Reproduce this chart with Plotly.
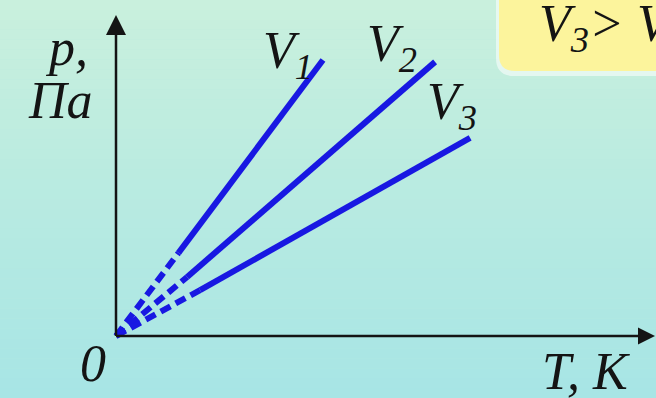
import plotly.graph_objects as go

W, H = 656, 398

# ---- data ----
series = ["V1", "V2", "V3"]
T_end = [38.4, 59.2, 65.7]      # end of each isochore (T units)
p_end = [86.0, 85.4, 61.7]      # end of each isochore (p units)
T_dash = [11.6, 13.2, 15.6]     # where dashed part ends
p_dash = [25.9, 18.4, 14.3]
T_axis_max = 100
p_axis_max = 100
label_text = ["V<sub>1</sub>", "V<sub>2</sub>", "V<sub>3</sub>"]

BLUE = "#1818e2"
INK = "#141414"
FONT = "Liberation Serif"

def px(x):
    return x / W

def py(y):
    return 1 - y / H

fig = go.Figure()

# background gradient bands
top = (201, 240, 221)
bot = (167, 229, 229)
n = 40
shapes = []
for i in range(n):
    f = i / (n - 1)
    c = tuple(round(top[k] + (bot[k] - top[k]) * f) for k in range(3))
    shapes.append(dict(type="rect", xref="paper", yref="paper", layer="below",
                       x0=0, x1=1, y0=1 - (i + 1) / n, y1=1 - i / n,
                       line=dict(width=0), fillcolor="rgb(%d,%d,%d)" % c))

def rounded(x0, y0, x1, y1, r):
    X0, X1 = px(x0), px(x1)
    Y0, Y1 = py(y0), py(y1)
    rx, ry = r / W, r / H
    return (f"M{X0},{Y0} L{X0},{Y1 + ry} Q{X0},{Y1} {X0 + rx},{Y1} "
            f"L{X1},{Y1} L{X1},{Y0} Z")

shapes.append(dict(type="path", xref="paper", yref="paper", layer="below",
                   path=rounded(496, -20, 700, 76, 18),
                   fillcolor="rgba(255,255,255,0.55)", line=dict(width=0)))
shapes.append(dict(type="path", xref="paper", yref="paper", layer="below",
                   path=rounded(499, -20, 700, 71, 16),
                   fillcolor="#fcf49c", line=dict(width=0)))

# axes lines
shapes.append(dict(type="line", xref="x", yref="y", x0=0, y0=0, x1=T_axis_max - 3, y1=0,
                   line=dict(color=INK, width=2.5)))
shapes.append(dict(type="line", xref="x", yref="y", x0=0, y0=0, x1=0, y1=p_axis_max - 5,
                   line=dict(color=INK, width=2.5)))

fig.add_trace(go.Scatter(x=[0], y=[p_axis_max], mode="markers", cliponaxis=False,
                         marker=dict(symbol="arrow-up", size=20, color=INK, line=dict(width=0)),
                         hoverinfo="skip", showlegend=False))
fig.add_trace(go.Scatter(x=[T_axis_max], y=[0], mode="markers", cliponaxis=False,
                         marker=dict(symbol="arrow-right", size=17, color=INK, line=dict(width=0)),
                         hoverinfo="skip", showlegend=False))

for i, name in enumerate(series):
    fig.add_trace(go.Scatter(x=[0, T_dash[i]], y=[0, p_dash[i]], mode="lines",
                             line=dict(color=BLUE, width=6, dash="11px,6px"),
                             showlegend=False, hoverinfo="skip"))
    fig.add_trace(go.Scatter(x=[T_dash[i], T_end[i]], y=[p_dash[i], p_end[i]], mode="lines",
                             line=dict(color=BLUE, width=6), name=name,
                             showlegend=False))

ann = []
def txt(s, x, y, size=52, xanchor="center"):
    ann.append(dict(text="<i>" + s + "</i>", xref="paper", yref="paper",
                    x=px(x), y=py(y), xanchor=xanchor, yanchor="middle",
                    showarrow=False, font=dict(family=FONT, size=size, color=INK)))

label_pos = [(288, 54), (392, 47), (452, 106)]
for s, (x, y) in zip(label_text, label_pos):
    txt(s, x, y)

txt("p,", 66, 47)
txt("Па", 60, 101)
txt("0", 93, 363)
txt("T, К", 586, 371)
txt("V<sub>3</sub>> V<sub>2</sub>", 537, 27, xanchor="left")

fig.update_layout(
    width=W, height=H,
    margin=dict(l=0, r=0, t=0, b=0),
    paper_bgcolor="#b8eadf", plot_bgcolor="rgba(0,0,0,0)",
    shapes=shapes, annotations=ann,
    xaxis=dict(range=[-116 / 5.39, (W - 116) / 5.39], visible=False, fixedrange=True),
    yaxis=dict(range=[(336 - H) / 3.21, 336 / 3.21], visible=False, fixedrange=True),
    showlegend=False,
)

fig.write_html("out.html", config={"displayModeBar": False},
               post_script="document.body.style.margin='0';document.body.style.overflow='hidden';")
